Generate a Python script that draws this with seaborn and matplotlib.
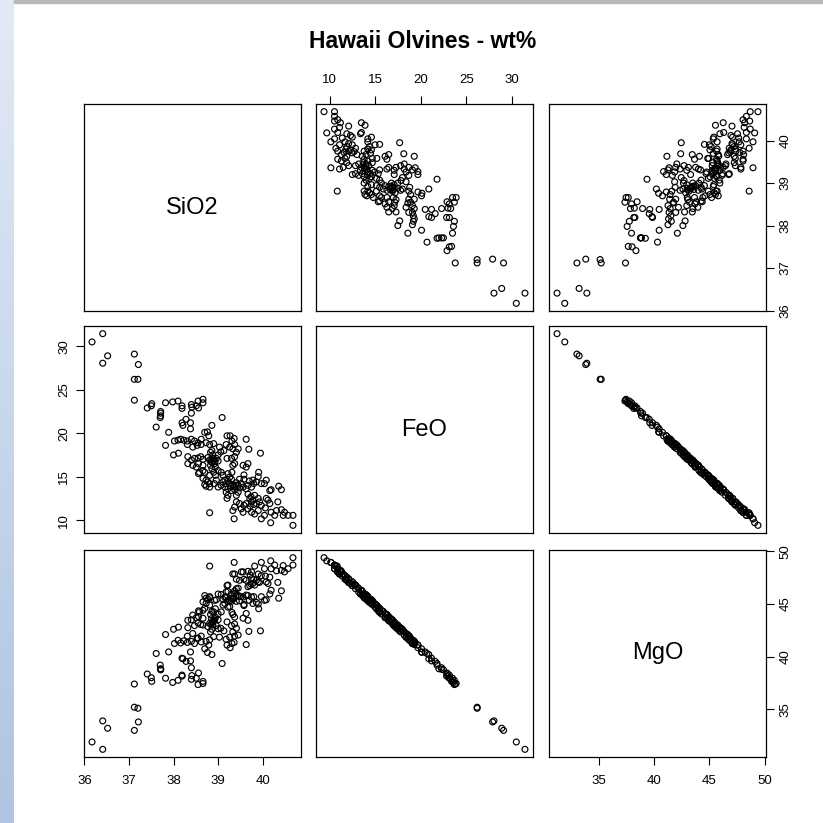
import matplotlib
matplotlib.use("Agg")
import matplotlib.pyplot as plt
import numpy as np
import pandas as pd
import seaborn as sns

# values (wt%)
sio2 = [
    36.17, 36.41, 36.41, 36.52, 37.12, 37.21, 37.12, 37.20, 37.12,
    37.41, 37.50, 37.51, 37.71, 37.71, 37.71, 37.70, 37.82, 37.98, 38.10,
    38.19, 38.19, 38.40, 38.41, 38.51, 38.56, 38.66, 38.40, 38.66, 38.55,
    37.61, 37.89, 37.82, 38.19, 38.21, 38.28, 38.38, 38.38, 39.09, 38.86,
    38.02, 38.10, 38.16, 38.23, 38.31, 38.40, 38.47, 38.55, 38.62, 38.70,
    38.76, 38.79, 38.73, 38.81, 38.90, 38.31, 38.43, 38.53, 38.62, 38.00,
    38.11,
    38.32, 38.40, 38.47, 38.55, 38.61, 38.66, 38.56, 38.58, 38.66, 38.32,
    38.43, 38.51, 38.66, 38.70, 38.56, 38.66, 38.73,
    38.81, 38.85, 38.88, 38.92, 38.83, 38.94, 38.88, 38.77, 39.00, 38.96,
    38.86, 38.90, 38.81, 38.94, 39.00, 39.06, 39.13, 39.03, 38.86, 38.83,
    38.87, 38.90, 38.84, 38.93,
    38.81, 38.81, 38.77, 38.73, 38.70, 38.81,
    39.20, 39.27, 39.36, 39.31, 39.37, 39.26, 39.18, 39.33, 39.20, 39.30,
    39.37, 39.45, 39.41, 39.63, 39.69, 39.95,
    39.56, 39.63, 39.67, 39.33, 39.37, 39.31, 39.58, 39.91, 39.07, 39.11,
    39.00, 39.22, 39.26,
    39.11, 39.15, 39.18, 39.22, 39.26, 39.30, 39.33, 39.37, 39.41, 39.45,
    39.48, 39.52, 39.56, 39.37, 39.30, 39.22, 39.15, 39.07, 39.00, 38.92,
    38.96, 39.18, 39.22, 39.20, 39.41, 39.45, 39.63, 39.67, 39.75, 39.80,
    39.86, 39.97, 40.04, 40.08, 40.16, 40.19, 40.36, 40.42, 39.90, 39.78,
    39.70, 39.58, 39.48, 39.35, 39.40, 39.28,
    39.67, 39.71, 39.75, 39.78, 39.82, 39.86, 39.90, 39.93, 39.97, 39.63,
    39.58, 39.67, 39.75, 39.82, 39.90, 39.97, 40.04, 40.08, 40.12, 40.16,
    40.06, 40.19, 40.18, 40.27, 40.31, 40.34, 40.42, 40.49, 40.46, 40.57,
    40.68, 40.68, 39.37, 39.33, 39.36, 39.41, 39.48, 39.52, 39.56, 39.72,
    39.80, 39.74,
]
feo = [
    30.50, 31.45, 28.05, 28.90, 29.10, 27.90, 26.20, 26.20, 23.80,
    22.90, 23.15, 23.40, 22.50, 22.30, 22.00, 21.80, 23.50, 23.60, 23.70,
    22.85, 23.15, 23.30, 23.00, 23.15, 22.90, 23.50, 22.30, 23.90, 23.70,
    20.70, 20.10, 18.60, 21.20, 20.90, 21.60, 21.20, 20.50, 21.80, 20.90,
    19.10, 19.20, 19.30, 19.20, 19.10, 19.30, 19.10, 18.90, 19.30, 20.10,
    20.15, 19.70, 18.90, 18.70, 18.80, 18.70, 18.40, 18.60, 18.70, 17.50,
    17.70,
    17.30, 16.90, 17.10, 17.15, 17.30, 17.00, 16.50, 15.50, 15.70, 16.50,
    16.30, 16.10, 16.30, 15.50, 15.35, 14.80, 14.60,
    16.90, 16.70, 17.10, 16.50, 16.30, 16.10, 17.50, 17.20, 16.80, 17.10,
    15.90, 15.50, 15.15, 15.15, 17.50, 17.85, 18.00, 18.40, 18.00, 17.80,
    16.60, 16.90, 17.00, 16.75,
    14.20, 13.80, 14.40, 13.90, 14.10, 10.85,
    19.70, 19.70, 19.40, 19.10, 18.70, 18.40, 18.70, 18.20, 17.10, 17.10,
    17.30, 18.20, 17.80, 19.30, 18.15, 17.70,
    16.30, 16.10, 16.50, 16.30, 16.50, 15.50, 15.20, 15.50, 15.50, 15.15,
    15.70, 15.35, 14.95,
    14.40, 14.60, 14.20, 14.50, 14.20, 14.70, 14.10, 13.80, 14.30, 14.00,
    13.70, 14.20, 13.80, 13.50, 13.40, 13.60, 13.80, 14.00, 13.80, 14.20,
    14.60, 13.20, 12.85, 12.50, 12.85, 13.20, 13.60, 14.00, 13.80, 14.20,
    14.40, 14.20, 14.20, 14.60, 13.40, 13.50, 13.90, 13.50, 15.00, 14.60,
    14.50, 14.70, 14.70, 13.90, 14.00, 13.90,
    13.00, 12.50, 12.10, 12.30, 12.85, 11.90, 12.50, 12.10, 11.70, 11.90,
    11.70, 11.30, 10.90, 10.70, 11.10, 10.15, 10.55, 12.50, 12.30, 11.90,
    11.40, 10.90, 9.70, 10.55, 11.10, 12.10, 11.20, 10.90, 10.55, 10.55,
    10.55, 9.40, 11.50, 11.10, 10.15, 12.10, 11.90, 11.30, 10.90, 11.60,
    11.80, 12.70,
]
mgo = [
    31.90, 31.20, 33.90, 33.20, 33.00, 33.80, 35.20, 35.10, 37.40,
    38.35, 38.00, 37.65, 38.75, 38.80, 38.85, 39.20, 37.95, 37.55, 37.75,
    38.15, 38.25, 37.85, 38.20, 37.95, 38.45, 37.65, 38.95, 37.45, 37.35,
    40.30, 40.45, 42.10, 39.85, 39.80, 39.55, 39.60, 40.45, 39.35, 40.20,
    41.25, 41.55, 41.30, 41.50, 41.35, 41.45, 41.25, 41.75, 41.40, 40.75,
    40.40, 41.10, 41.45, 41.60, 41.90, 41.95, 42.20, 41.75, 41.95, 42.60,
    42.80,
    42.75, 43.50, 42.95, 43.20, 43.05, 43.00, 43.80, 44.25, 44.40, 43.45,
    43.95, 43.70, 43.65, 44.60, 44.35, 45.20, 45.05,
    43.15, 43.60, 43.25, 43.45, 44.00, 43.75, 43.00, 42.85, 43.50, 42.95,
    44.30, 44.25, 44.90, 44.55, 42.65, 42.70, 42.45, 41.85, 42.60, 42.35,
    43.35, 43.40, 43.05, 43.60,
    45.70, 45.60, 45.45, 45.55, 45.80, 48.60,
    41.10, 40.85, 41.35, 41.25, 41.95, 41.85, 41.65, 42.35, 43.30, 42.95,
    43.10, 42.05, 42.70, 41.15, 42.40, 42.45,
    43.65, 44.10, 43.45, 44.00, 43.75, 44.20, 44.85, 44.55, 44.25, 44.90,
    44.05, 44.70, 44.75,
    45.45, 45.05, 45.65, 45.35, 45.30, 45.25, 45.45, 46.00, 45.25, 45.80,
    45.75, 45.70, 45.65, 46.25, 45.95, 46.20, 45.65, 45.90, 45.95, 45.35,
    45.40, 46.15, 46.80, 46.75, 46.45, 46.50, 45.85, 45.80, 45.65, 45.70,
    45.15, 45.70, 45.35, 45.40, 45.95, 46.30, 45.55, 46.25, 45.00, 45.05,
    45.35, 44.95, 45.30, 45.55, 45.80, 45.55,
    46.65, 46.75, 47.40, 46.95, 46.80, 47.25, 47.10, 47.05, 47.70, 47.25,
    47.35, 48.10, 48.05, 48.60, 47.85, 48.95, 48.35, 47.10, 46.95, 47.55,
    47.65, 48.35, 49.10, 48.70, 48.15, 47.05, 48.20, 48.05, 48.65, 48.35,
    48.70, 49.40, 47.85, 47.85, 48.95, 47.35, 47.25, 48.05, 48.05, 47.75,
    47.35, 46.90,
]

var_names = ["SiO2", "FeO", "MgO"]
tick_values = {
    "SiO2": [36, 37, 38, 39, 40],
    "FeO": [10, 15, 20, 25, 30],
    "MgO": [35, 40, 45, 50],
}

df = pd.DataFrame({"SiO2": sio2, "FeO": feo, "MgO": mgo})

sns.set_style("white")
plt.rcParams["font.family"] = ["Liberation Sans", "DejaVu Sans"]
plt.rcParams["text.color"] = "black"
plt.rcParams["xtick.color"] = "black"
plt.rcParams["ytick.color"] = "black"

W = 823.0
fig = plt.figure(figsize=(8.23, 8.23), dpi=100)

# window chrome seen at the left/top of the screenshot
strip = fig.add_axes([0, 0, 14 / W, 1])
strip.imshow(np.linspace(0, 1, 256).reshape(-1, 1), aspect="auto",
             cmap=matplotlib.colors.LinearSegmentedColormap.from_list("s", ["#e2eaf5", "#aec4e2"]))
strip.axis("off")
fig.patches.append(plt.Rectangle((14 / W, 1 - 3 / W), 1, 3 / W, transform=fig.transFigure,
                                 color="#b8b8b8", zorder=0))


def _lims(name):
    v = df[name]
    lo, hi = v.min(), v.max()
    pad = 0.04 * (hi - lo)
    return lo - pad, hi + pad


col_x = [84, 316, 549]
row_y = [104, 326, 550]
pw, ph = 217, 207

# which panels carry axis ticks (R pairs layout)
tick_sides = {
    (0, 1): [("top", "FeO")],
    (0, 2): [("right", "SiO2")],
    (1, 0): [("left", "FeO")],
    (2, 0): [("bottom", "SiO2")],
    (2, 2): [("bottom", "MgO"), ("right", "MgO")],
}

for r, yname in enumerate(var_names):
    for c, xname in enumerate(var_names):
        ax = fig.add_axes([col_x[c] / W, 1 - (row_y[r] + ph) / W, pw / W, ph / W])
        if r == c:
            ax.text(0.5, 0.5, xname, ha="center", va="center", fontsize=17,
                    color="black", transform=ax.transAxes)
        else:
            sns.scatterplot(data=df, x=xname, y=yname, ax=ax, s=18,
                            facecolor="none", edgecolor="black", linewidth=0.85,
                            legend=False)
        ax.set_xlim(*_lims(xname))
        ax.set_ylim(*_lims(yname))
        ax.set_xlabel("")
        ax.set_ylabel("")
        ax.set_xticks([])
        ax.set_yticks([])
        for sp in ax.spines.values():
            sp.set_visible(True)
            sp.set_color("black")
            sp.set_linewidth(0.9)
        for side, name in tick_sides.get((r, c), []):
            if side in ("top", "bottom"):
                ax.set_xticks(tick_values[name])
                ax.tick_params(axis="x", bottom=side == "bottom", top=side == "top",
                               labelbottom=side == "bottom", labeltop=side == "top",
                               length=6, width=0.8, pad=7, labelsize=9.5,
                               colors="black")
            else:
                ax.set_yticks(tick_values[name])
                ax.tick_params(axis="y", left=side == "left", right=side == "right",
                               labelleft=side == "left", labelright=side == "right",
                               length=6, width=0.8, pad=4, labelsize=9.5,
                               labelrotation=90, colors="black")
                for lab in ax.get_yticklabels():
                    lab.set_verticalalignment("center")

fig.text(423 / W, 1 - 41 / W, "Hawaii Olvines - wt%", ha="center", va="center",
         fontsize=16.5, fontweight="bold", color="black")

fig.savefig("out.png", dpi=100)
